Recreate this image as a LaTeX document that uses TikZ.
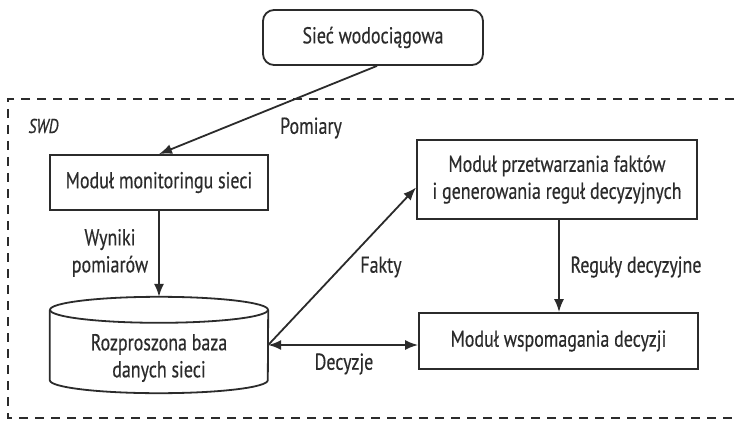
\documentclass[tikz,border=0pt]{standalone}
\usepackage{fontspec}
\setmainfont{PT Sans}[FakeStretch=0.78,FakeBold=0.4]
\usetikzlibrary{arrows.meta,calc}
\definecolor{ink}{HTML}{2B2B2B}
\begin{document}
\begin{tikzpicture}[x=1pt,y=1pt,
  every node/.style={text=ink,font=\fontsize{23}{27}\selectfont},
  box/.style={draw=ink,line width=1.8pt,rectangle,inner sep=0pt,align=center},
  tip/.style={Latex[length=13pt,width=10pt]},
  conn/.style={draw=ink,line width=1.8pt,-{Latex[length=13pt,width=10pt]}},
  biconn/.style={draw=ink,line width=1.8pt,{Latex[length=13pt,width=10pt]}-{Latex[length=13pt,width=10pt]}},
  lbl/.style={align=center,inner sep=0pt}]
\useasboundingbox (0,0) rectangle (738,-422);
\fill[white] (0,0) rectangle (738,-422);

% system boundary
\draw[ink,line width=1.6pt,dash pattern=on 9pt off 7pt]
  (750,-99) -- (8,-99) -- (8,-418) -- (750,-418);
\node[font=\itshape\fontsize{20}{22}\selectfont,anchor=base west] (swd) at (25,-133) {SWD};

% nodes
\node[box,rounded corners=11pt,minimum width=220pt,minimum height=55pt] (net) at (373,-37.5) {Sieć wodociągowa};
\node[box,minimum width=218pt,minimum height=55pt] (mon) at (159,-182.5) {Moduł monitoringu sieci};
\node[box,minimum width=280pt,minimum height=79pt] (rules) at (557,-179.5)
  {Moduł przetwarzania faktów\\i generowania reguł decyzyjnych};
\node[box,minimum width=279pt,minimum height=56pt] (dec) at (558.5,-341) {Moduł wspomagania decyzji};

% database cylinder
\node[rectangle,inner sep=0pt,minimum width=218pt,minimum height=96pt] (db) at (159,-345) {};
\draw[ink,line width=1.8pt]
  ([yshift=-13pt]db.north west) -- ([yshift=13pt]db.south west)
  arc[start angle=180,end angle=360,x radius=109pt,y radius=13pt]
  -- ([yshift=-13pt]db.north east);
\draw[ink,line width=1.8pt] ([yshift=-13pt]db.north) ellipse [x radius=109pt,y radius=13pt];
\node[lbl] (dbtext) at (159,-358) {Rozproszona baza\\danych sieci};

% connectors
\draw[conn] ([xshift=4pt]net.south) -- (mon.north);
\draw[conn] (mon.south) -- (db.north);
\draw[conn] (db.east) -- ($(rules.west)+(0,-8)$);
\draw[conn] ([xshift=2pt]rules.south) -- ([xshift=2pt]rules.south |- dec.north);
\draw[biconn] (db.east) -- (dec.west |- db.east);

% labels
\node[lbl] (pomiary) at (311,-128) {Pomiary};
\node[lbl] (wyniki) at (110,-253) {Wyniki\\pomiarów};
\node[lbl] (fakty) at (381,-267) {Fakty};
\node[lbl] (reguly) at (636,-267) {Reguły decyzyjne};
\node[lbl] (decyzje) at (344,-364) {Decyzje};
\end{tikzpicture}
\end{document}
